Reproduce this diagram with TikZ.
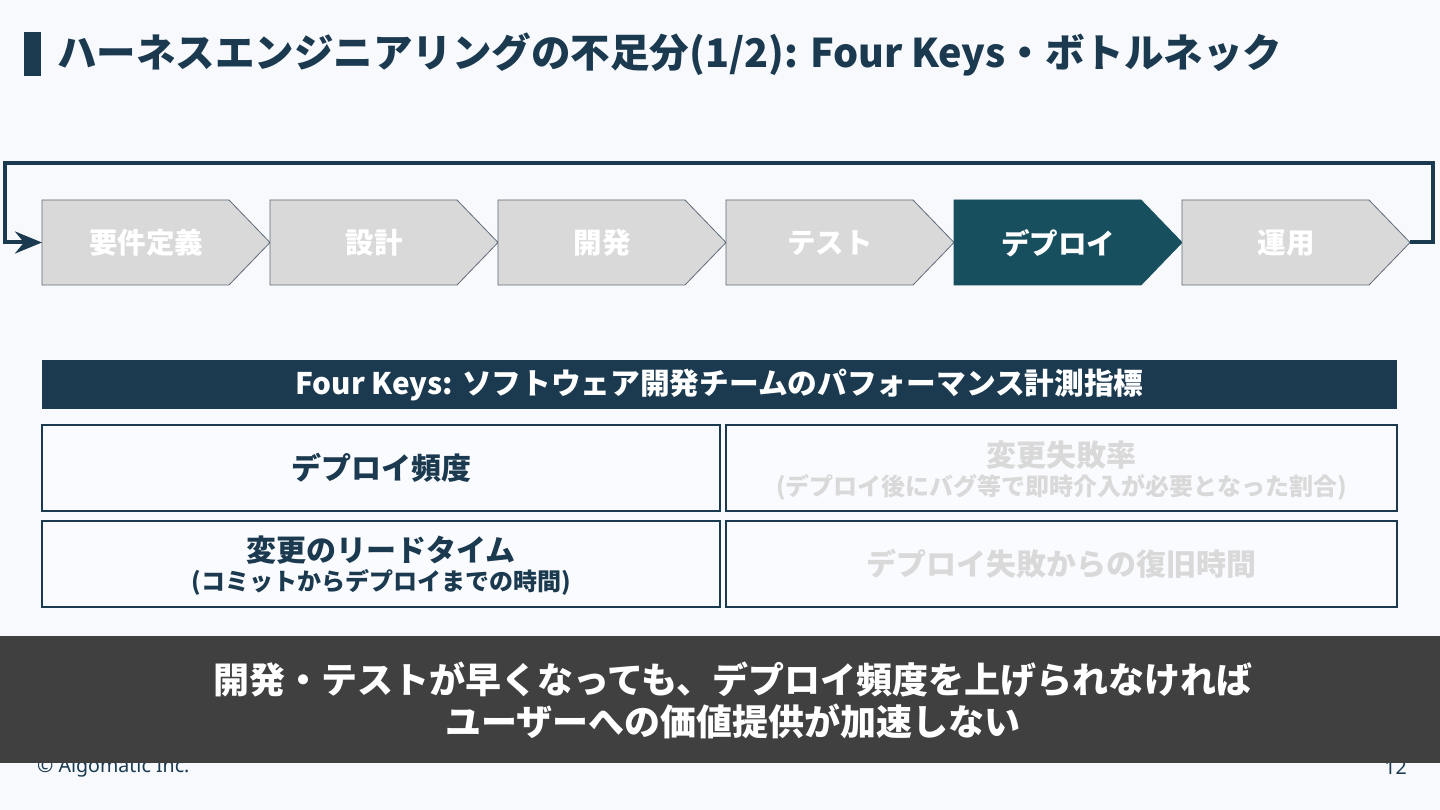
\documentclass[tikz,border=0pt]{standalone}
\usepackage{fontspec}
\setmainfont{Noto Sans CJK JP}
\newfontfamily\latinfont{Noto Sans}
\usetikzlibrary{arrows.meta}
\definecolor{bgc}{HTML}{F7F9FD}
\definecolor{navy}{HTML}{1B3A4F}
\definecolor{teal}{HTML}{174F5F}
\definecolor{stagegray}{HTML}{D9D9D9}
\definecolor{stageline}{HTML}{5F6B78}
\definecolor{banner}{HTML}{404040}
\definecolor{faint}{HTML}{D9D9D9}
\newcommand{\fs}[1]{\fontsize{#1}{#1}\selectfont}
\begin{document}
\begin{tikzpicture}[x=1pt,y=-1pt,
  stagebox/.style={fill=stagegray,draw=stageline,line width=0.8pt},
  stagecur/.style={fill=teal,draw=teal,line width=0.8pt},
  stagetext/.style={text=white,font=\bfseries\fs{28.5},inner sep=0pt},
  cellbox/.style={draw=navy,line width=1.6pt,fill=white!40!bgc,inner sep=0pt,minimum width=#1,minimum height=86pt},
  loopline/.style={draw=navy,line width=4pt,line join=miter},
  keytext/.style={text=navy,font=\bfseries\fs{30},inner sep=0pt},
  subtext/.style={text=navy,font=\bfseries\fs{24},inner sep=0pt},
]
\useasboundingbox (0,0) rectangle (1440,810);
\fill[bgc] (0,0) rectangle (1440,810);

% title
\fill[navy] (24,32) rectangle (41,76);
\node[anchor=west,inner sep=0pt,text=navy,font=\bfseries\fs{39.5}] (title) at (57,54)
  {ハーネスエンジニアリングの不足分(1/2): Four Keys・ボトルネック};

% stages
\foreach \L/\nm/\txt/\sty in {42/s1/要件定義/stagebox, 270/s2/設計/stagebox, 498/s3/開発/stagebox,
  726/s4/テスト/stagebox, 954/s5/デプロイ/stagecur, 1182/s6/運用/stagebox}{
  \path[\sty] (\L,200) -- (\L+187,200) -- (\L+228,242.5) -- (\L+187,285) -- (\L,285) -- cycle;
  \coordinate (\nm-in) at (\L,242.5);
  \coordinate (\nm-tip) at (\L+228,242.5);
  \node[stagetext] (\nm) at (\L+104,243) {\txt};
}

% loop back arrow
\draw[loopline,-{Stealth[length=27pt,width=22pt,inset=9pt]}]
  (s6-tip) -- (1433,242.5) -- (1433,163) -- (5,163) -- (5,242.5) -- (s1-in);

% Four Keys header
\fill[navy] (42,360) rectangle (1397,409);
\node[text=white,font=\bfseries\fs{29.7},inner sep=0pt] (fkhead) at (719.5,385)
  {Four Keys: ソフトウェア開発チームのパフォーマンス計測指標};

% cells
\node[cellbox=678pt] (c1) at (381,468) {};
\node[cellbox=671pt] (c2) at (1061.5,468) {};
\node[cellbox=678pt] (c3) at (381,564) {};
\node[cellbox=671pt] (c4) at (1061.5,564) {};

\node[keytext] (t1) at (c1) {デプロイ頻度};
\node[keytext] (t3a) at (381,550) {変更のリードタイム};
\node[subtext] (t3b) at (381,582) {(コミットからデプロイまでの時間)};
\node[keytext,text=faint] (t2a) at (1061.5,455) {変更失敗率};
\node[subtext,text=faint] (t2b) at (1061.5,487) {(デプロイ後にバグ等で即時介入が必要となった割合)};
\node[keytext,text=faint] (t4) at (c4) {デプロイ失敗からの復旧時間};

% footer (partly hidden by banner)
\node[anchor=west,inner sep=0pt,text=navy,font=\latinfont\fs{19.6}] (copy) at (37,767) {© Algomatic Inc.};
\node[anchor=east,inner sep=0pt,text=navy,font=\latinfont\fs{19.6}] (pageno) at (1407,767) {12};

% banner
\fill[banner] (0,636) rectangle (1440,763);
\node[text=white,font=\bfseries\fs{36},inner sep=0pt] (b1) at (733,680) {開発・テストが早くなっても、デプロイ頻度を上げられなければ};
\node[text=white,font=\bfseries\fs{36},inner sep=0pt] (b2) at (733,721) {ユーザーへの価値提供が加速しない};
\end{tikzpicture}
\end{document}
